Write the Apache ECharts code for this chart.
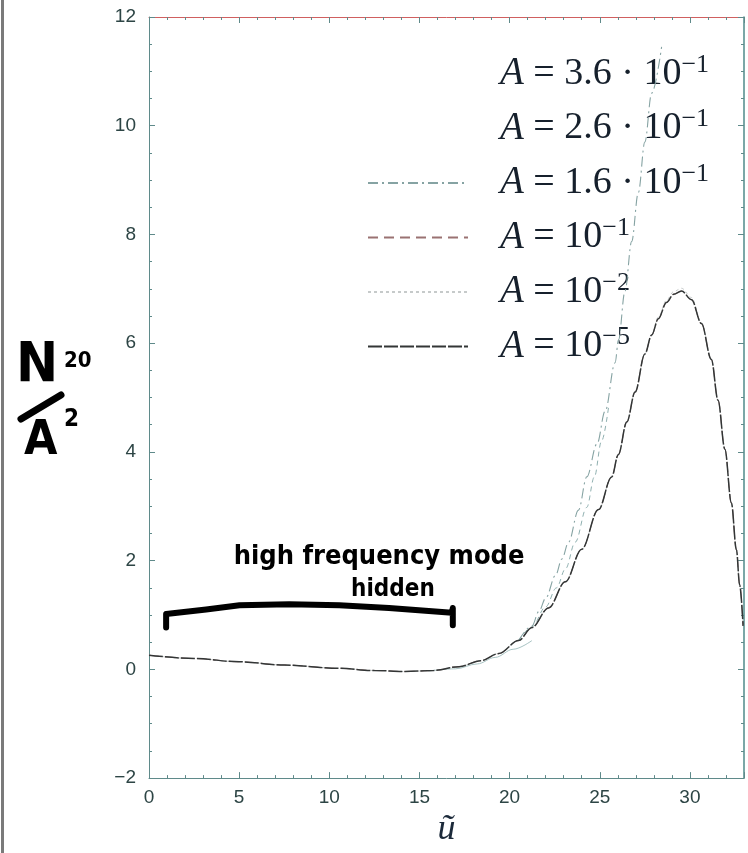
<!DOCTYPE html>
<html>
<head>
<meta charset="utf-8">
<script src="https://cdn.jsdelivr.net/npm/echarts@6/dist/echarts.min.js"></script>
<style>
  html, body { margin: 0; padding: 0; background: #ffffff; }
  #chart { width: 748px; height: 853px; }
</style>
</head>
<body>
<div id="chart"></div>
<script>
// N_20 / A^2 as a function of ũ for several forcing amplitudes A

const xTicks = [0, 5, 10, 15, 20, 25, 30];
const yTicks = [-2, 0, 2, 4, 6, 8, 10, 12];

// Common curve: A = 1e-5, 1e-2 and 1e-1 lie on top of each other
const uMain = [0, 2.5, 5, 7.5, 10.5, 12.5, 14.2, 15.8, 17.2, 18.4, 19.4, 20.5, 21.24, 22.16, 23.09, 24.0, 24.93, 25.66, 26.03, 26.5, 26.96, 27.5, 27.88, 28.25, 28.7, 29.1, 29.54, 30.09, 30.64, 31.19, 31.56, 31.94, 32.3, 32.58, 32.76, 32.95];
const nMain = [0.26, 0.2, 0.14, 0.08, 0.02, -0.02, -0.04, -0.02, 0.05, 0.16, 0.29, 0.53, 0.77, 1.13, 1.61, 2.21, 2.94, 3.54, 3.95, 4.55, 5.1, 5.8, 6.15, 6.45, 6.75, 6.9, 6.96, 6.8, 6.36, 5.7, 4.95, 4.05, 3.06, 2.2, 1.55, 0.8];

// A = 1e-2 sits a hair above near the maximum
const nA1e2 = [0.26, 0.2, 0.14, 0.08, 0.02, -0.02, -0.04, -0.02, 0.05, 0.16, 0.29, 0.53, 0.77, 1.13, 1.61, 2.21, 2.94, 3.54, 3.95, 4.55, 5.1, 5.8, 6.16, 6.48, 6.79, 6.95, 7.01, 6.84, 6.38, 5.71, 4.95, 4.05, 3.06, 2.2, 1.55, 0.8];

// A = 1.6e-1 leaves the common curve near ũ ≈ 21 and climbs steeply
const uA16 = [20.5, 21.24, 21.63, 22.0, 22.55, 22.9, 23.27, 23.82, 24.28, 24.85, 25.3, 25.85, 26.04, 26.4, 26.77, 27.14, 27.5, 27.88, 28.43];
const nA16 = [0.53, 0.8, 1.07, 1.31, 1.73, 2.03, 2.34, 2.93, 3.54, 4.15, 4.75, 5.64, 6.06, 6.96, 7.87, 8.77, 9.7, 10.6, 11.45];

// A = 2.6e-1 branch, between the common curve and the steep one
const uA26 = [20.5, 21.24, 22.0, 22.6, 23.1, 23.64, 24.28, 24.7, 25.1, 25.5];
const nA26 = [0.53, 0.78, 1.15, 1.5, 1.85, 2.34, 2.98, 3.54, 4.2, 4.85];

// A = 3.6e-1 short branch just under the common curve
const uA36 = [15.5, 17.0, 18.2, 19.2, 20.2, 21.24];
const nA36 = [-0.03, 0.01, 0.1, 0.22, 0.37, 0.53];

// Hand-drawn bracket over the low-ũ region
const bracketU = [0.95, 0.95, 1.04, 3.17, 5.02, 7.78, 10.55, 13.31, 16.8, 16.85, 16.85];
const bracketN = [0.77, 1.02, 1.01, 1.10, 1.18, 1.20, 1.18, 1.13, 1.04, 1.13, 0.81];

// Hand-written notes, anchored in data coordinates
const noteText = ['high frequency mode', 'hidden'];
const noteU = [12.76, 13.53];
const noteN = [2.07, 1.47];

const legendLabels = {
  a36: '{i|A}{n| = 3.6 · 10}{s|−1}',
  a26: '{i|A}{n| = 2.6 · 10}{s|−1}',
  a16: '{i|A}{n| = 1.6 · 10}{s|−1}',
  a1e1: '{i|A}{n| = 10}{s|−1}',
  a1e2: '{i|A}{n| = 10}{s|−2}',
  a1e5: '{i|A}{n| = 10}{s|−5}'
};

const zip = (xs, ys) => xs.map((x, i) => [x, ys[i]]);

const axisColor = '#5f8a8a';
const labelColor = '#2d4545';

const chart = echarts.init(document.getElementById('chart'), null, { renderer: 'canvas' });

function curve(name, xs, ys, color, width, type, z) {
  return {
    name: name,
    type: 'line',
    xAxisIndex: 0,
    yAxisIndex: 0,
    data: zip(xs, ys),
    symbol: 'none',
    smooth: 0.35,
    smoothMonotone: 'x',
    lineStyle: { color: color, width: width, type: type },
    itemStyle: { color: color },
    emphasis: { disabled: true },
    z: z,
    silent: true,
    animation: false
  };
}

const xAxisBase = {
  type: 'value', min: 0, max: 33, interval: 5,
  splitLine: { show: false },
  axisTick: { show: true, inside: true, length: 6, lineStyle: { color: axisColor } },
  minorTick: { show: true, splitNumber: 5, length: 3, lineStyle: { color: axisColor } },
  minorSplitLine: { show: false }
};
const yAxisBase = {
  type: 'value', min: -2, max: 12, interval: 2,
  splitLine: { show: false },
  axisTick: { show: true, inside: true, length: 6, lineStyle: { color: axisColor } },
  minorTick: { show: true, splitNumber: 4, length: 3, lineStyle: { color: axisColor } },
  minorSplitLine: { show: false }
};

chart.setOption({
  animation: false,
  backgroundColor: '#ffffff',
  grid: { left: 149, top: 17, right: 4, bottom: 59, containLabel: false },
  xAxis: [
    Object.assign({}, xAxisBase, {
      position: 'bottom',
      axisLine: { show: true, onZero: false, lineStyle: { color: axisColor, width: 1 } },
      axisLabel: {
        show: true, margin: 10, color: labelColor, fontSize: 19, fontFamily: 'Liberation Sans',
        formatter: v => (xTicks.indexOf(v) >= 0 ? String(v) : '')
      },
      name: 'ũ', nameLocation: 'middle', nameGap: 25,
      nameTextStyle: { fontFamily: 'Liberation Serif', fontStyle: 'italic', fontSize: 36, color: '#1c2a3a' }
    }),
    Object.assign({}, xAxisBase, {
      position: 'top',
      axisLine: { show: true, onZero: false, lineStyle: { color: '#d06060', width: 1 } },
      axisLabel: { show: false }
    })
  ],
  yAxis: [
    Object.assign({}, yAxisBase, {
      position: 'left',
      axisLine: { show: true, onZero: false, lineStyle: { color: axisColor, width: 1 } },
      axisLabel: {
        show: true, margin: 13, color: labelColor, fontSize: 19, fontFamily: 'Liberation Sans',
        formatter: v => (yTicks.indexOf(v) >= 0 ? (v < 0 ? '−' + Math.abs(v) : String(v)) : '')
      }
    }),
    Object.assign({}, yAxisBase, {
      position: 'right',
      axisLine: { show: true, onZero: false, lineStyle: { color: '#4f8a8a', width: 1.5 } },
      axisLabel: { show: false }
    })
  ],
  legend: {
    orient: 'vertical',
    left: 362,
    top: 47,
    itemWidth: 100,
    itemHeight: 14,
    itemGap: 13,
    selectedMode: false,
    itemStyle: { opacity: 0 },
    data: [
      { name: 'a36', lineStyle: { opacity: 0 } },
      { name: 'a26', lineStyle: { opacity: 0 } },
      { name: 'a16' },
      { name: 'a1e1' },
      { name: 'a1e2' },
      { name: 'a1e5' }
    ],
    formatter: name => legendLabels[name],
    textStyle: {
      color: '#16202c',
      fontFamily: 'Liberation Serif',
      fontSize: 38,
      padding: [0, 0, 0, 27],
      rich: {
        i: { fontFamily: 'Liberation Serif', fontStyle: 'italic', fontSize: 39, lineHeight: 44, color: '#16202c' },
        n: { fontFamily: 'Liberation Serif', fontSize: 38, lineHeight: 44, color: '#16202c' },
        s: { fontFamily: 'Liberation Serif', fontSize: 26, lineHeight: 26, verticalAlign: 'top', color: '#16202c' }
      }
    }
  },
  series: [
    curve('a36', uA36, nA36, '#a9c4c4', 1, 'solid', 2),
    curve('a26', uA26, nA26, '#8fb0b0', 1, [5, 4], 3),
    curve('a16', uA16, nA16, '#86a3a3', 1.1, [10, 4, 2, 4], 4),
    curve('a1e1', uMain, nMain, '#9a7272', 1, [10, 6], 5),
    curve('a1e2', uMain, nA1e2, '#c6caca', 1, [3, 3], 6),
    curve('a1e5', uMain, nMain, '#333636', 1.5, [14, 2], 7),
    {
      name: 'bracket',
      type: 'line',
      data: zip(bracketU, bracketN),
      symbol: 'none',
      smooth: false,
      lineStyle: { color: '#000000', width: 6, cap: 'round', join: 'round' },
      silent: true,
      z: 8
    }
  ]
});

// Hand-written annotations and the y-axis title
const notes = noteText.map((t, i) => {
  const p = chart.convertToPixel({ gridIndex: 0 }, [noteU[i], noteN[i]]);
  return {
    type: 'text',
    x: p[0], y: p[1],
    z: 20,
    style: {
      text: t,
      align: 'center', verticalAlign: 'middle',
      fontFamily: 'DejaVu Sans Condensed', fontWeight: 'bold',
      fontSize: i === 0 ? 27 : 24,
      fill: '#000000'
    }
  };
});

const handFont = 'DejaVu Sans Condensed';
chart.setOption({
  graphic: [
    { type: 'rect', shape: { x: 1, y: 0, width: 3, height: 853 }, style: { fill: '#7a7a7a' }, z: 1 },
    { type: 'text', x: 16, y: 338, style: { text: 'N', fontFamily: handFont, fontWeight: 'bold', fontSize: 56, fill: '#000' } },
    { type: 'text', x: 64, y: 350, style: { text: '20', fontFamily: handFont, fontWeight: 'bold', fontSize: 22, fill: '#000' } },
    { type: 'line', shape: { x1: 21, y1: 419, x2: 61, y2: 395 }, style: { stroke: '#000', lineWidth: 7, lineCap: 'round' } },
    { type: 'text', x: 24, y: 418, style: { text: 'A', fontFamily: handFont, fontWeight: 'bold', fontSize: 48, fill: '#000' } },
    { type: 'text', x: 64, y: 408, style: { text: '2', fontFamily: handFont, fontWeight: 'bold', fontSize: 24, fill: '#000' } }
  ].concat(notes)
});
</script>
</body>
</html>
